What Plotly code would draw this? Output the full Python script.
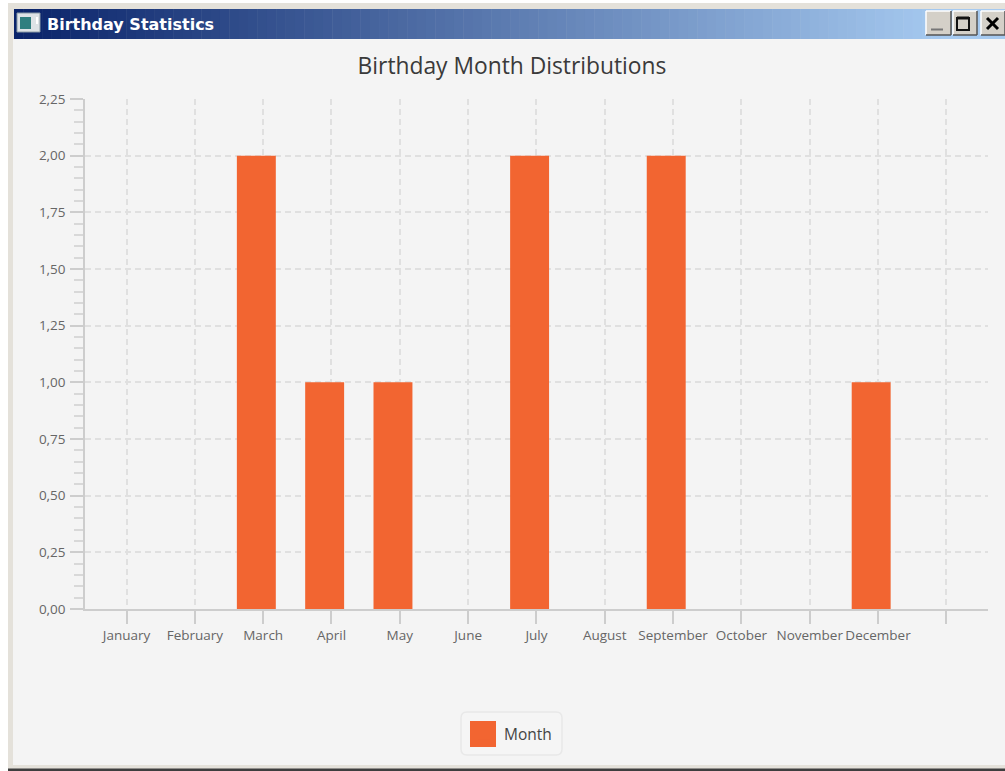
import plotly.graph_objects as go

months = ["January", "February", "March", "April", "May", "June", "July", "August",
          "September", "October", "November", "December", " "]
counts = [0, 0, 2, 1, 1, 0, 2, 0, 2, 0, 0, 1, None]
series_name = "Month"
chart_title = "Birthday Month Distributions"
window_title = "Birthday Statistics"
y_ticks = [0, 0.25, 0.5, 0.75, 1, 1.25, 1.5, 1.75, 2, 2.25]

W, H = 1005, 771
ORANGE = "#F26531"
GRID = "#E0E0E0"
AXIS = "#CDCDCD"
FONT = "Open Sans"


def rect(x0, y0, x1, y1, fill, line=None, layer="below", lw=1):
    return dict(type="rect", xref="paper", yref="paper", layer=layer,
                x0=x0 / W, x1=x1 / W, y0=1 - y0 / H, y1=1 - y1 / H,
                fillcolor=fill, line=dict(color=line or fill, width=lw if line else 0))


def seg(x0, y0, x1, y1, color, lw=1, layer="below"):
    return dict(type="line", xref="paper", yref="paper", layer=layer,
                x0=x0 / W, x1=x1 / W, y0=1 - y0 / H, y1=1 - y1 / H,
                line=dict(color=color, width=lw))


def mix(a, b, t):
    return "#%02x%02x%02x" % tuple(round(a[i] + (b[i] - a[i]) * t) for i in range(3))


shapes = [
    rect(8, 3, W, 771, "#E4E1DA"),
    rect(13, 39, W, 765, "#F4F4F4"),
    rect(8, 768.5, W, 771, "#3E3E3E"),
]
# title-bar gradient
start, end = (10, 36, 106), (166, 202, 240)
n = 100
x_a, x_b = 14, 950
for i in range(n):
    shapes.append(rect(x_a + (x_b - x_a) * i / n, 9, x_a + (x_b - x_a) * (i + 1) / n + 0.5, 39,
                       mix(start, end, i / (n - 1))))
shapes.append(rect(x_b, 9, W, 39, mix(start, end, 1)))
# icon
shapes += [
    rect(17, 13, 40, 32, "#DDE3E6", "#8A9AA6"),
    rect(20, 17, 31, 29, "#2F7F7F"),
    rect(36, 17, 38, 24, "#FFFFFF"),
]
# window buttons
for a, b in [(926, 951), (953, 977), (981, 1005)]:
    shapes += [rect(a, 11, b, 35, "#D4D0C8"),
               seg(a, 11, b, 11, "#FFFFFF", 1.5), seg(a, 11, a, 35, "#FFFFFF", 1.5),
               seg(a, 35, b, 35, "#555555", 1.5), seg(b, 11, b, 35, "#555555", 1.5)]
shapes += [
    seg(931, 29.5, 943, 29.5, "#777777", 2),
    dict(type="rect", xref="paper", yref="paper", layer="below",
         x0=957 / W, x1=969 / W, y0=1 - 18 / H, y1=1 - 30 / H,
         line=dict(color="#111111", width=2), fillcolor="rgba(0,0,0,0)"),
    seg(957, 18, 969, 18, "#111111", 3),
    seg(987, 18, 998, 29, "#000000", 3),
    seg(998, 18, 987, 29, "#000000", 3),
]
# legend box and swatch (the native legend sits on top of it)
lx0, lx1, ly0, ly1, r = 461, 562, 712, 755, 6
path = (f"M {(lx0 + r) / W} {1 - ly0 / H} L {(lx1 - r) / W} {1 - ly0 / H} "
        f"Q {lx1 / W} {1 - ly0 / H} {lx1 / W} {1 - (ly0 + r) / H} L {lx1 / W} {1 - (ly1 - r) / H} "
        f"Q {lx1 / W} {1 - ly1 / H} {(lx1 - r) / W} {1 - ly1 / H} L {(lx0 + r) / W} {1 - ly1 / H} "
        f"Q {lx0 / W} {1 - ly1 / H} {lx0 / W} {1 - (ly1 - r) / H} L {lx0 / W} {1 - (ly0 + r) / H} "
        f"Q {lx0 / W} {1 - ly0 / H} {(lx0 + r) / W} {1 - ly0 / H} Z")
shapes += [
    dict(type="path", xref="paper", yref="paper", layer="below", path=path,
         fillcolor="#F5F5F5", line=dict(color="#E8E8E8", width=1.5)),
    rect(470, 721, 496, 747, ORANGE),
]

fig = go.Figure(go.Bar(x=months, y=counts, name=series_name, width=0.57, offset=-0.385,
                       marker=dict(color=ORANGE, line=dict(width=0)), showlegend=True))

fig.update_layout(
    width=W, height=H, margin=dict(l=0, r=0, t=0, b=0), autosize=False,
    paper_bgcolor="#FFFFFF", plot_bgcolor="rgba(0,0,0,0)",
    font=dict(family=FONT, color="#666666"),
    separators=",.",
    title=dict(text=chart_title, x=512 / W, xanchor="center", y=1 - 66 / H, yanchor="middle",
               font=dict(family=FONT, size=22.8, color="#3A3A3A")),
    shapes=shapes,
    annotations=[dict(text=f"<b>{window_title}</b>", xref="paper", yref="paper", showarrow=False,
                      x=45 / W, y=1 - 25 / H, xanchor="left", yanchor="middle",
                      font=dict(family="DejaVu Sans", size=16, color="#FFFFFF"))],
    legend=dict(x=464 / W, y=1 - 734 / H, xanchor="left", yanchor="middle",
                bgcolor="rgba(0,0,0,0)", borderwidth=0, itemwidth=30,
                font=dict(family=FONT, size=15.5, color="#444444")),
    xaxis=dict(domain=[85 / W, 988 / W], type="category", categoryorder="array", categoryarray=months,
               automargin=False,
               range=[-0.608, 12.61], tickmode="array", tickvals=months, ticktext=months,
               tickangle=0, ticks="outside", ticklen=13, tickcolor=AXIS, tickwidth=1.5,
               tickfont=dict(size=13.5, color="#666666"),
               showline=True, linecolor=AXIS, linewidth=1.5, showgrid=True, gridcolor=GRID,
               griddash="6px,4px", gridwidth=1.5, zeroline=False, fixedrange=True),
    yaxis=dict(domain=[1 - 609 / H, 1 - 99 / H], range=[0, 2.25], tickmode="array", tickvals=y_ticks,
               automargin=False, ticklabelstandoff=2,
               tickformat=".2f", ticks="outside", ticklen=13, tickcolor=AXIS, tickwidth=1.5,
               tickfont=dict(size=13.5, color="#666666"),
               showline=True, linecolor=AXIS, linewidth=1.5, showgrid=True, gridcolor=GRID,
               griddash="6px,4px", gridwidth=1.5, zeroline=False, fixedrange=True,
               minor=dict(dtick=0.05, ticks="outside", ticklen=9, tickcolor="#D8D8D8", tickwidth=1.5, showgrid=False)),
)

fig.write_html("out.html", config=dict(displayModeBar=False),
               post_script="document.body.style.margin='0';document.documentElement.style.overflow='hidden';")
